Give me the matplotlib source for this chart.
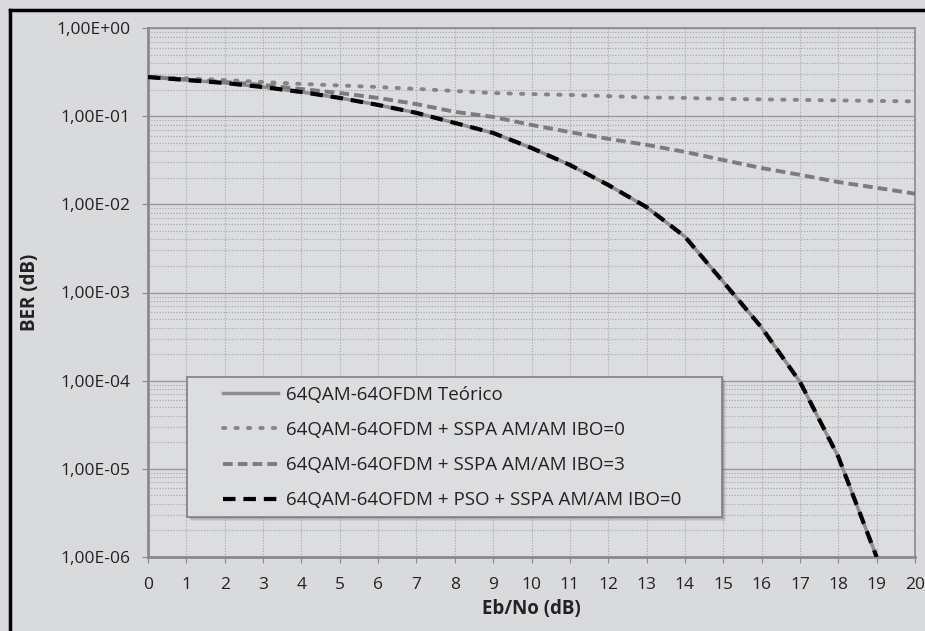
import numpy as np
import matplotlib
matplotlib.use("Agg")
import matplotlib.pyplot as plt
from matplotlib.ticker import LogLocator, FixedLocator, NullFormatter, FuncFormatter
from matplotlib.lines import Line2D
from matplotlib.patches import Rectangle

plt.rcParams['font.family'] = ['Open Sans', 'DejaVu Sans']

# Eb/No (dB)
ebno = list(range(0, 21))
ebno_19 = list(range(0, 20))

ber_teorico = [0.278, 0.257, 0.238, 0.214, 0.188, 0.161, 0.134, 0.109, 0.0838, 0.0645,
               0.0436, 0.028, 0.0166, 0.0093, 0.0043, 0.00132, 4.0e-4, 9.7e-5, 1.37e-5, 1.0e-6]
ber_ibo0 = [0.278, 0.268, 0.257, 0.244, 0.232, 0.223, 0.214, 0.204, 0.193, 0.183, 0.178,
            0.174, 0.169, 0.163, 0.161, 0.157, 0.155, 0.153, 0.151, 0.149, 0.147]
ber_ibo3 = [0.278, 0.261, 0.244, 0.226, 0.203, 0.183, 0.161, 0.137, 0.112, 0.098, 0.0795,
            0.066, 0.0553, 0.0473, 0.0393, 0.0318, 0.0258, 0.0216, 0.0179, 0.0154, 0.0132]
ber_pso = [0.278, 0.257, 0.238, 0.214, 0.188, 0.161, 0.134, 0.109, 0.0838, 0.0645,
           0.0436, 0.028, 0.0166, 0.0093, 0.0043, 0.00132, 4.0e-4, 9.7e-5, 1.37e-5, 1.0e-6]

labels = ["64QAM-64OFDM Teórico",
          "64QAM-64OFDM + SSPA AM/AM IBO=0",
          "64QAM-64OFDM + SSPA AM/AM IBO=3",
          "64QAM-64OFDM + PSO + SSPA AM/AM IBO=0"]

bg = '#d9dadd'
fig = plt.figure(figsize=(9.25, 6.31), dpi=100, facecolor=bg)
ax = fig.add_axes([148/925, 1 - 557/631, 767/925, 529/631])
ax.set_facecolor('#dcdde0')

# outer frame (left and top only visible)
fig.add_artist(Line2D([10/925, 10/925], [0, 1 - 10/631], color='black', lw=2.5,
                      transform=fig.transFigure))
fig.add_artist(Line2D([10/925, 1], [1 - 10/631, 1 - 10/631], color='black', lw=2.5,
                      transform=fig.transFigure))

ax.plot(ebno_19, ber_teorico, color='#8e8e8e', lw=2.5, label=labels[0], zorder=3)
ax.plot(ebno, ber_ibo0, color='#858585', lw=2.8, linestyle=(0, (0.6, 2.6)),
        dash_capstyle='round', label=labels[1], zorder=3)
ax.plot(ebno, ber_ibo3, color='#7c7c7c', lw=2.8, linestyle=(0, (2.5, 1.3)),
        label=labels[2], zorder=3)
ax.plot(ebno_19, ber_pso, color='black', lw=3, linestyle=(0, (3, 1.9)),
        label=labels[3], zorder=4)

ax.set_yscale('log')
ax.set_ylim(1e-6, 1)
ax.set_xlim(0, 20)
ax.xaxis.set_major_locator(FixedLocator(ebno))
ax.yaxis.set_major_locator(LogLocator(base=10, numticks=10))
ax.yaxis.set_minor_locator(LogLocator(base=10, subs=np.arange(2, 10), numticks=20))
ax.yaxis.set_minor_formatter(NullFormatter())
ax.yaxis.set_major_formatter(FuncFormatter(lambda v, p: ("%.2E" % v).replace('.', ',')))

ax.grid(which='major', axis='y', color='#9a9a9a', lw=1.0, linestyle='-')
ax.grid(which='minor', axis='y', color='#a5a5a5', lw=0.8, linestyle=(0, (1, 1.5)))
ax.grid(which='major', axis='x', color='#a5a5a5', lw=0.8, linestyle=(0, (1, 1.5)))

for s in ax.spines.values():
    s.set_color('#8a8a8a')
    s.set_linewidth(1.2)
ax.spines['left'].set_linewidth(2)
ax.spines['bottom'].set_linewidth(2)

ax.tick_params(axis='both', which='major', direction='out', length=4.5, color='#8a8a8a',
               labelsize=12.5, labelcolor='#222222', pad=8)
ax.tick_params(axis='y', which='minor', length=0)
ax.tick_params(axis='x', pad=10)

ax.set_xlabel('Eb/No (dB)', fontsize=13.5, fontweight='bold', color='#222222', labelpad=4)
ax.set_ylabel('BER (dB)', fontsize=13.5, fontweight='bold', color='#222222', labelpad=12)

# legend box with soft shadow
bx0, by0, bw, bh = 0.051, 0.0756, 0.697, 0.264
for i, a in enumerate([0.10, 0.12, 0.15, 0.2]):
    off = (4 - i) / 767
    offy = (4 - i) / 529
    ax.add_patch(Rectangle((bx0 + off, by0 - offy), bw, bh, transform=ax.transAxes,
                           facecolor='#505050', edgecolor='none', alpha=a, zorder=5))
ax.add_patch(Rectangle((bx0, by0), bw, bh, transform=ax.transAxes, facecolor='#dcdde0',
                       edgecolor='#808080', lw=1.2, zorder=6))

leg = ax.legend(loc='center left', bbox_to_anchor=((223 - 148) / 767, (557 - 447.5) / 529),
                fontsize=13.5, frameon=False, handlelength=2.95, handletextpad=0.4,
                labelspacing=0.92, borderpad=0, borderaxespad=0)
leg.set_zorder(7)
for t in leg.get_texts():
    t.set_color('#222222')

fig.savefig('out.png', dpi=100, facecolor=bg)
